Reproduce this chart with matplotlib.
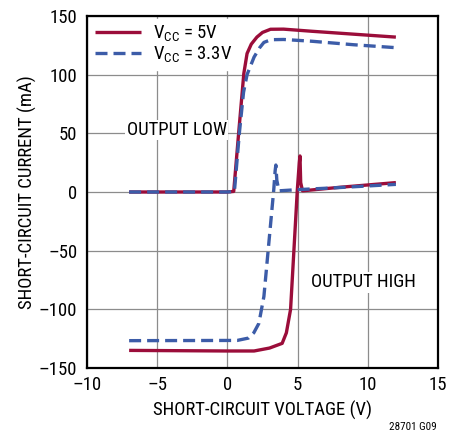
import matplotlib
matplotlib.use("Agg")
import matplotlib.pyplot as plt

plt.rcParams["font.family"] = ["Roboto Condensed", "DejaVu Sans"]
plt.rcParams["mathtext.fontset"] = "custom"
plt.rcParams["mathtext.rm"] = "Roboto Condensed"

# V_CC = 5V, output low (sinking)
low5_v = [-7, 0.0, 0.45, 0.8, 1.17, 1.4, 1.7, 2.1, 2.5, 3.07, 4.0, 6.0, 9.0, 12.0]
low5_i = [0, 0, 0.5, 50, 101, 118, 126, 132, 136, 138.7, 138.8, 137, 134.5, 132]

# V_CC = 3.3V, output low
low33_v = [-7, 0.0, 0.5, 0.85, 1.15, 1.4, 1.9, 2.3, 2.6, 3.1, 4.0, 6.0, 9.0, 12.0]
low33_i = [0, 0, 0.5, 50, 85, 100, 115, 123, 127.5, 129.8, 130, 128.5, 125.5, 123]

# V_CC = 5V, output high (sourcing)
high5_v = [-7, 0.0, 1.9, 3.0, 3.9, 4.2, 4.5, 4.98, 5.12, 5.17, 5.22, 5.35, 8.0, 12.0]
high5_i = [-135, -135.5, -135.5, -133, -129, -120, -100, 1.7, 25, 30.7, 8, 1.0, 4, 8]

# V_CC = 3.3V, output high
high33_v = [-7, 0.7, 1.5, 1.88, 2.24, 2.6, 3.3, 3.4, 3.45, 3.52, 3.67, 5.0, 8.0, 12.0]
high33_i = [-126.7, -126.5, -124.5, -120, -112, -89, 1.7, 18, 23, 10, 1.0, 2.0, 3.8, 6.5]

x_ticks = [-10, -5, 0, 5, 10, 15]
y_ticks = [-150, -100, -50, 0, 50, 100, 150]

red = "#9b0d3a"
blue = "#3c5ca8"


def main():
    fig = plt.figure(figsize=(4.68, 4.34), dpi=100)
    ax = fig.add_axes([87 / 468, 1 - 368 / 434, (438 - 87) / 468, (368 - 16) / 434])

    ax.plot(low5_v, low5_i, color=red, lw=2.4, solid_capstyle="butt",
            label="V$_{\\mathregular{CC}}$ = 5V", zorder=3)
    ax.plot(high5_v, high5_i, color=red, lw=2.4, solid_capstyle="butt", zorder=3)
    ax.plot(low33_v, low33_i, color=blue, lw=2.4, dashes=(3.6, 1.8),
            label="V$_{\\mathregular{CC}}$ = 3.3V", zorder=4)
    ax.plot(high33_v, high33_i, color=blue, lw=2.4, dashes=(3.6, 1.8), zorder=4)

    ax.set_xlim(-10, 15)
    ax.set_ylim(-150, 150)
    ax.set_xticks(x_ticks)
    ax.set_yticks(y_ticks)
    ax.set_xticklabels([str(t).replace("-", "\u2013") for t in x_ticks])
    ax.set_yticklabels([str(t).replace("-", "\u2013") for t in y_ticks])
    ax.tick_params(axis="x", length=0, labelsize=13.5, pad=6)
    ax.tick_params(axis="y", length=0, labelsize=13.5, pad=7)
    ax.grid(True, color="#8c8c8c", lw=0.9)
    ax.set_axisbelow(True)
    for s in ax.spines.values():
        s.set_linewidth(1.6)
        s.set_color("black")

    ax.set_xlabel("SHORT-CIRCUIT VOLTAGE (V)", fontsize=13.5, labelpad=5)
    ax.set_ylabel("SHORT-CIRCUIT CURRENT (mA)", fontsize=13.5, labelpad=1)

    leg = ax.legend(loc="upper left", fontsize=13.5, frameon=True, fancybox=False,
                    handlelength=2.5, borderaxespad=0.15, labelspacing=0.05,
                    handletextpad=0.6, borderpad=0.25)
    leg.get_frame().set_edgecolor("white")
    leg.get_frame().set_alpha(1)

    ax.text(-3.6, 53, "OUTPUT LOW", fontsize=13.5, ha="center", va="center",
            bbox=dict(facecolor="white", edgecolor="none", pad=1))
    ax.text(9.7, -77, "OUTPUT HIGH", fontsize=13.5, ha="center", va="center",
            bbox=dict(facecolor="white", edgecolor="none", pad=1))

    fig.text(437 / 468, 1 - 427 / 434, "28701 G09", fontsize=8, ha="right", va="center")

    fig.savefig("out.png", dpi=100)
    plt.close(fig)


if __name__ == "__main__":
    main()
